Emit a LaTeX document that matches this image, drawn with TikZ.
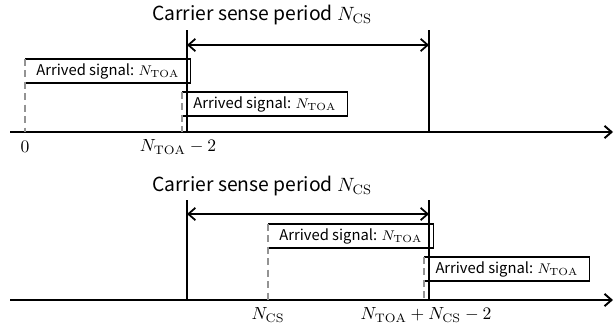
\documentclass[tikz,border=0pt]{standalone}
\usepackage{amsmath}
\usepackage{fontspec}
\setsansfont{Noto Sans CJK JP}
\usetikzlibrary{arrows.meta}

\begin{document}
\begin{tikzpicture}[x=0.02cm,y=-0.02cm,
		sigbox/.style={minimum width=3.3cm,minimum height=0.47cm,inner sep=0pt,anchor=north west,font=\sffamily\fontsize{8.4}{10}\selectfont},
		ttl/.style={font=\sffamily\fontsize{11}{13}\selectfont},
		tip/.style={-{Straight Barb[length=4pt,width=7pt]},line width=1.1pt},
		dtip/.style={{Straight Barb[length=4pt,width=7pt]}-{Straight Barb[length=4pt,width=7pt]},line width=1pt},
		lim/.style={line width=0.9pt},
		arr/.style={gray!85,line width=1.1pt,dash pattern=on 4pt off 2.5pt}]
	\useasboundingbox (0,0) rectangle (614,326);
	% case 1
	\node[ttl] (title1) at (262,15) {Carrier sense period $N_{\mathrm{CS}}$};
	\coordinate (ax1) at (10,132); \coordinate (ax1end) at (613,132);
	\coordinate (lo1) at (187,30); \coordinate (lo1b) at (187,132);
	\coordinate (hi1) at (429,30); \coordinate (hi1b) at (429,132);
	\coordinate (cl1) at (187,45); \coordinate (cr1) at (429,45);
	\draw[tip] (ax1) -- (ax1end);
	\draw[lim] (lo1) -- (lo1b);
	\draw[lim] (hi1) -- (hi1b);
	\draw[dtip] (cl1) -- (cr1);
	\node[sigbox] (sigA) at (25,59) {Arrived signal: $N_{\mathrm{TOA}}$};
	\node[sigbox] (sigB) at (182,92) {Arrived signal: $N_{\mathrm{TOA}}$};
	\foreach \s in {sigA,sigB}
		\draw[lim] (\s.north west) -- (\s.north east) -- (\s.south east) -- (\s.south west);
	\draw[arr] (sigA.north west) -- (sigA.north west |- ax1);
	\draw[arr] (sigB.north west) -- (sigB.north west |- ax1);
	\node (zero) at (25,147) {$0$};
	\node (toa) at (178,147) {$N_{\mathrm{TOA}}-2$};
	% case 2
	\node[ttl] (title2) at (262,186) {Carrier sense period $N_{\mathrm{CS}}$};
	\coordinate (ax2) at (10,300); \coordinate (ax2end) at (613,300);
	\coordinate (lo2) at (187,200); \coordinate (lo2b) at (187,300);
	\coordinate (hi2) at (429,200); \coordinate (hi2b) at (429,300);
	\coordinate (cl2) at (187,214); \coordinate (cr2) at (429,214);
	\draw[tip] (ax2) -- (ax2end);
	\draw[lim] (lo2) -- (lo2b);
	\draw[lim] (hi2) -- (hi2b);
	\draw[dtip] (cl2) -- (cr2);
	\node[sigbox] (sigC) at (268,224) {Arrived signal: $N_{\mathrm{TOA}}$};
	\node[sigbox] (sigD) at (424,257) {Arrived signal: $N_{\mathrm{TOA}}$};
	\foreach \s in {sigC,sigD}
		\draw[lim] (\s.north west) -- (\s.north east) -- (\s.south east) -- (\s.south west);
	\draw[arr] (sigC.north west) -- (sigC.north west |- ax2);
	\draw[arr] (sigD.north west) -- (sigD.north west |- ax2);
	\node (cs) at (268,315) {$N_{\mathrm{CS}}$};
	\node (sum) at (426,315) {$N_{\mathrm{TOA}}+N_{\mathrm{CS}}-2$};
\end{tikzpicture}
\end{document}
